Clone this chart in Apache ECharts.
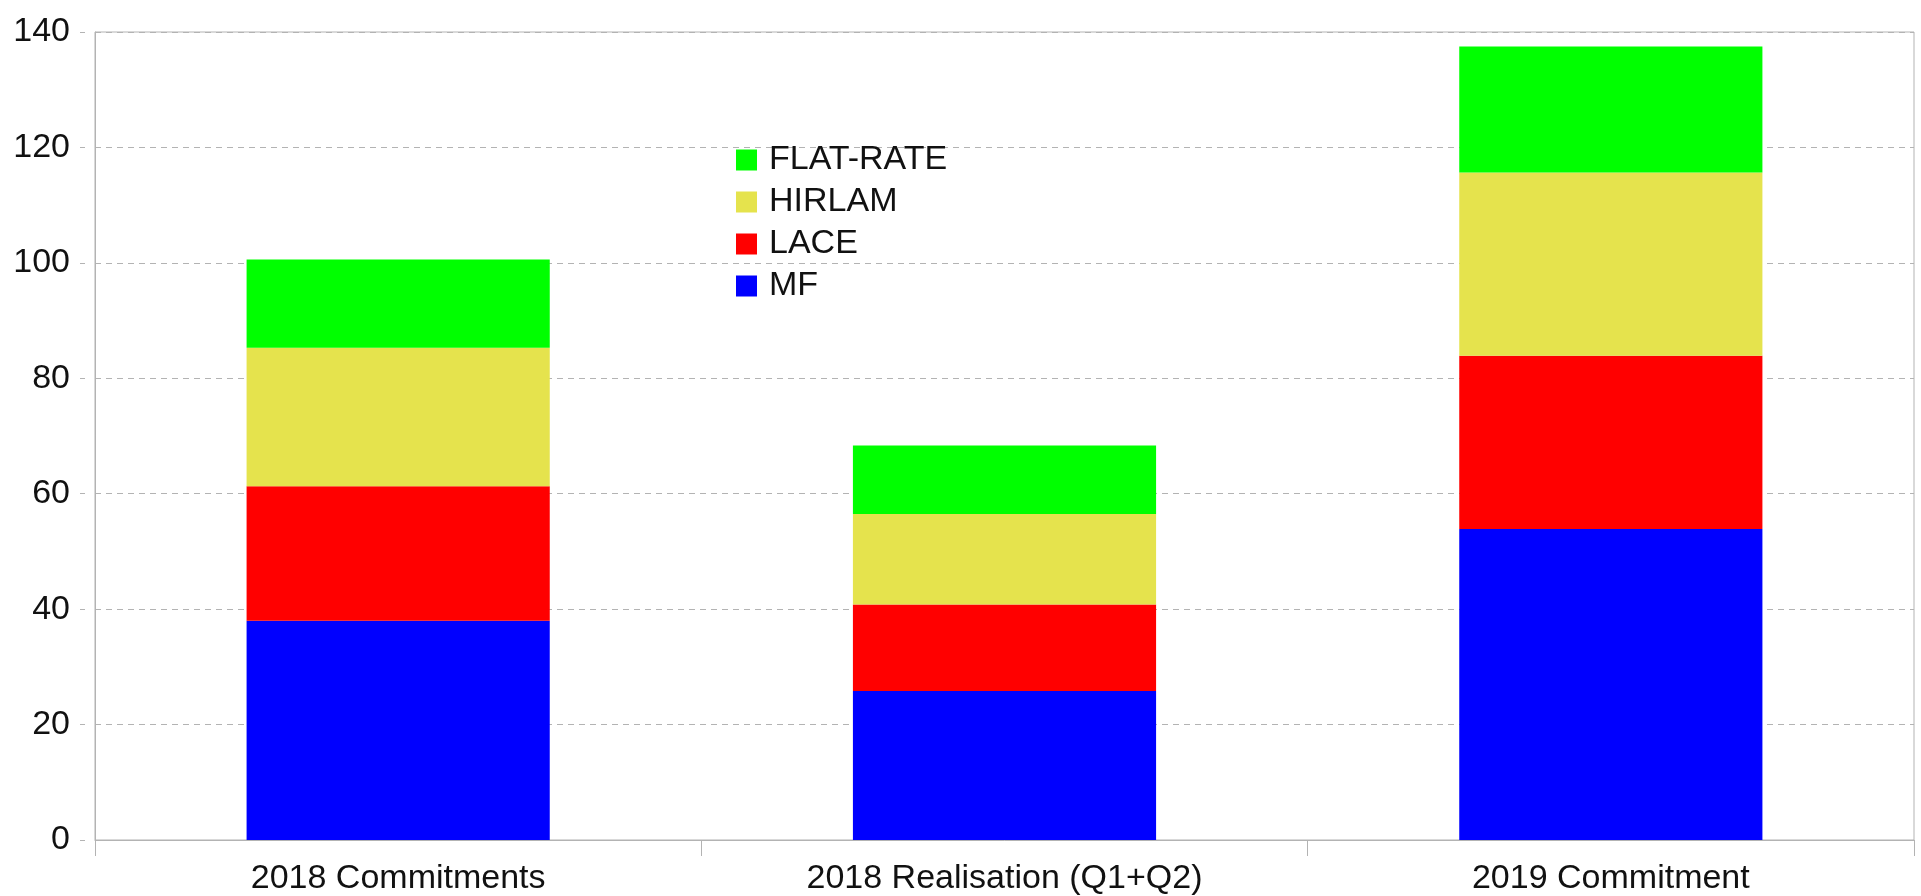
<!DOCTYPE html>
<html>
<head>
<meta charset="utf-8">
<script src="https://cdn.jsdelivr.net/npm/echarts@6/dist/echarts.min.js"></script>
<style>
html,body{margin:0;padding:0;background:#fff;}
#chart{width:1921px;height:896px;}
</style>
</head>
<body>
<div id="chart"></div>
<script>
const categories = ['2018 Commitments', '2018 Realisation (Q1+Q2)', '2019 Commitment'];
const mfValues = [38.0, 25.8, 53.9];
const laceValues = [23.3, 15.0, 30.0];
const hirlamValues = [24.0, 15.7, 31.75];
const flatRateValues = [15.3, 11.85, 21.85];
const legendOrder = ['FLAT-RATE', 'HIRLAM', 'LACE', 'MF'];

const FONT = 'Liberation Sans, Arial, sans-serif';
const chart = echarts.init(document.getElementById('chart'), null, {renderer: 'canvas'});

function barSeries(name, data, color) {
  return {
    name: name,
    type: 'bar',
    stack: 'total',
    barWidth: '50%',
    data: data,
    itemStyle: {color: color},
    emphasis: {disabled: true}
  };
}

chart.setOption({
  animation: false,
  backgroundColor: '#ffffff',
  textStyle: {fontFamily: FONT},
  grid: {
    left: 95, right: 7, top: 32, bottom: 56,
    show: true, borderColor: '#b3b3b3', borderWidth: 1, backgroundColor: 'transparent'
  },
  legend: {
    orient: 'vertical',
    left: 731,
    top: 138,
    itemWidth: 21,
    itemHeight: 21,
    itemGap: 8,
    icon: 'rect',
    data: legendOrder,
    selectedMode: false,
    textStyle: {fontSize: 34, color: '#111', fontFamily: FONT, padding: [0, 0, 3, 7]}
  },
  xAxis: {
    type: 'category',
    data: categories,
    axisLine: {lineStyle: {color: '#b3b3b3', width: 1}},
    axisTick: {show: true, alignWithLabel: false, length: 16, lineStyle: {color: '#b3b3b3'}},
    axisLabel: {fontSize: 34, color: '#111', margin: 22, fontFamily: FONT},
    splitLine: {show: false}
  },
  yAxis: {
    type: 'value',
    min: 0, max: 140, interval: 20,
    axisLine: {show: true, lineStyle: {color: '#b3b3b3', width: 1}},
    axisTick: {show: true, length: 15, lineStyle: {color: '#b3b3b3', type: [5, 10], dashOffset: 5}},
    axisLabel: {fontSize: 34, color: '#111', margin: 25, fontFamily: FONT},
    splitLine: {show: true, lineStyle: {color: '#b3b3b3', type: [6, 5], width: 1}}
  },
  series: [
    barSeries('MF', mfValues, '#0000ff'),
    barSeries('LACE', laceValues, '#ff0000'),
    barSeries('HIRLAM', hirlamValues, '#e5e34d'),
    barSeries('FLAT-RATE', flatRateValues, '#00ff00')
  ]
});
</script>
</body>
</html>
